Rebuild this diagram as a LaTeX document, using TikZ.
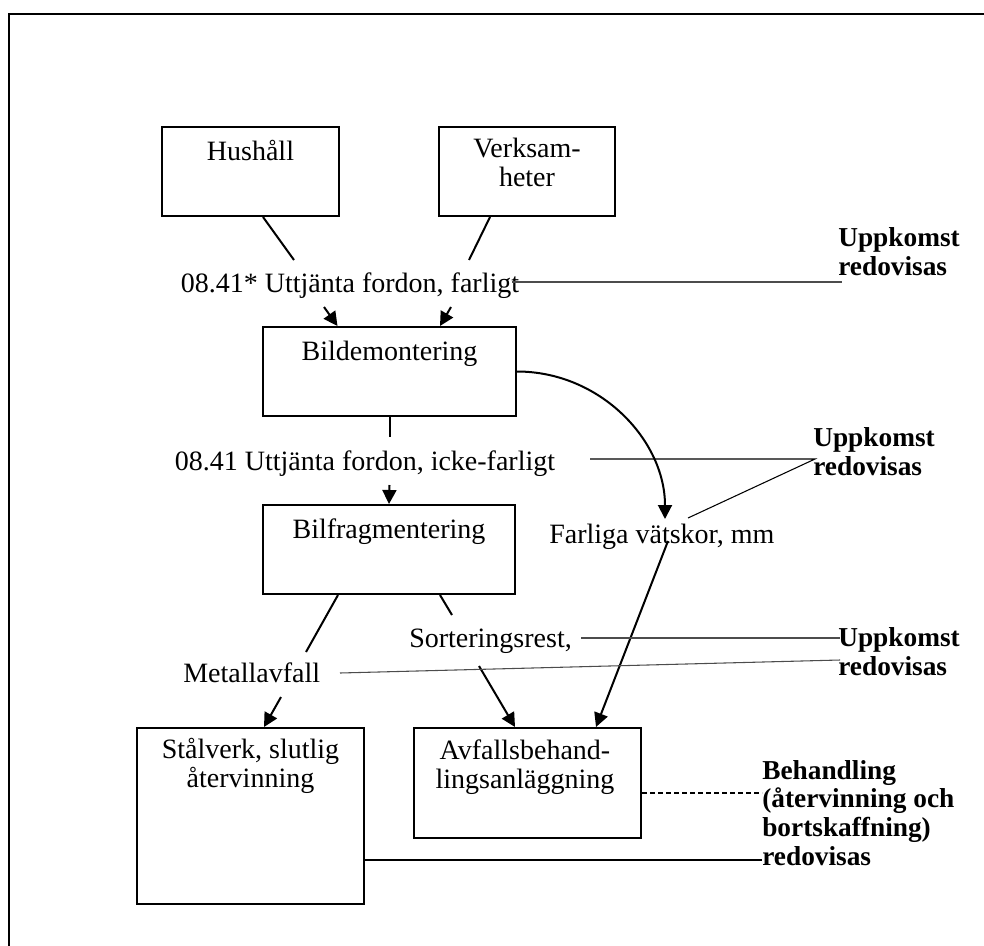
\documentclass[tikz,border=0pt]{standalone}
\usepackage{fontspec}
\setmainfont{Liberation Serif}
\usetikzlibrary{arrows.meta,calc}
\tikzset{
  box/.style={draw, line width=1.5pt, rectangle, inner sep=0pt},
  txt/.style={inner sep=0pt, anchor=base, align=center, font=\fontsize{21}{21.4}\selectfont},
  bold/.style={inner sep=0pt, anchor=base west, align=left, font=\fontsize{20.5}{21.5}\selectfont\bfseries},
  flowline/.style={line width=1.5pt},
  flowarrow/.style={line width=1.5pt, -{Triangle[length=10.5pt,width=10.5pt]}},
  note/.style={line width=0.8pt, gray!60!black},
  noteblack/.style={line width=0.8pt, black},
  notedash/.style={line width=1.2pt, dash pattern=on 4pt off 2pt}
}
\newcommand\pbox[5]{\node[box, minimum width=#4*0.75pt, minimum height=#5*0.75pt] (#1) at (#2,#3) {};}
\begin{document}
\begin{tikzpicture}[x=0.75pt, y=-0.75pt]
\useasboundingbox (0,0) rectangle (984,945);
% frame
\draw[line width=1.5pt] (9,950) -- (9,14) -- (990,14);

% boxes
\pbox{hushall}{250.5}{171.5}{177}{89}
\pbox{verksam}{527}{171.5}{176}{89}
\pbox{bildemo}{389.5}{371.5}{253}{89}
\pbox{bilfrag}{389}{549.5}{252}{89}
\pbox{stalverk}{250.5}{816}{227}{176}
\pbox{avfall}{527.5}{783}{227}{110}

% box texts (multi-line nodes: base = baseline of last line)
\node[txt] (hushall-t) at (250.5,161) {Hushåll};
\node[txt] (verksam-t) at (527,186.5) {Verksam-\\heter};
\node[txt] (bildemo-t) at (389.5,360) {Bildemontering};
\node[txt] (bilfrag-t) at (389,538) {Bilfragmentering};
\node[txt] (stalverk-t) at (250.5,787) {Stålverk, slutlig\\återvinning};
\node[txt] (avfall-t) at (525,788) {Avfallsbehand-\\lingsanläggning};

% flow labels
\node[txt] (lbl1) at (350,292) {08.41* Uttjänta fordon, farligt};
\node[txt] (lbl2) at (365,470) {08.41 Uttjänta fordon, icke-farligt};
\node[txt, anchor=base west] (farliga) at (549,543) {Farliga vätskor, mm};
\node[txt, anchor=base west] (sort) at (409,647) {Sorteringsrest,};
\node[txt, anchor=base west] (metall) at (183,682) {Metallavfall};

% bold notes
\node[bold] (u1) at (838,275) {Uppkomst\\redovisas};
\node[bold] (u2) at (813,475) {Uppkomst\\redovisas};
\node[bold] (u3) at (838,675) {Uppkomst\\redovisas};
\node[bold] (beh) at (762,865) {Behandling\\(återvinning och\\bortskaffning)\\redovisas};

% coordinates
\coordinate (hA) at (294,260);
\coordinate (hB) at (324,307);
\coordinate (vA) at (469,260);
\coordinate (vB) at (451,307);
\coordinate (bA) at (389.5,437);
\coordinate (bB) at (389.5,485);
\coordinate (fA) at (665,519);
\coordinate (fB) at (668,541);
\coordinate (mA) at (306,652);
\coordinate (mB) at (281,697);
\coordinate (sA) at (452,615);
\coordinate (sB) at (479,666);
\coordinate (n1a) at (512,282);
\coordinate (n1b) at (842,282);
\coordinate (n2a) at (590,459);
\coordinate (n2b) at (815,459);
\coordinate (n2c) at (688,518);
\coordinate (n3a) at (581,638);
\coordinate (n3b) at (840,638);
\coordinate (n4a) at (340,673);
\coordinate (n4b) at (840,660);
\coordinate (n5b) at (762,793);
\coordinate (n6b) at (762,860);

% flows
\draw[flowline] ($(hushall.south)+(12.5,0)$) -- (hA);
\draw[flowarrow] (hB) -- ($(bildemo.north)+(-52,0)$);
\draw[flowline] ($(verksam.south)+(-37,0)$) -- (vA);
\draw[flowarrow] (vB) -- ($(bildemo.north)+(50.5,0)$);
\draw[flowline] (bildemo.south) -- (bA);
\draw[flowarrow] (bB) -- (bilfrag.north);
\draw[flowarrow] (bildemo.east) .. controls (600,371.5) and (665,440) .. (fA);
\draw[flowarrow] (fB) -- ($(avfall.north)+(68.5,0)$);
\draw[flowline] ($(bilfrag.south)+(-51,0)$) -- (mA);
\draw[flowarrow] (mB) -- ($(stalverk.north)+(13.5,0)$);
\draw[flowline] ($(bilfrag.south)+(51,0)$) -- (sA);
\draw[flowarrow] (sB) -- ($(avfall.north)+(-12.5,0)$);

% note lines
\draw[note] (n1a) -- (n1b);
\draw[noteblack] (n2a) -- (n2b) -- (n2c);
\draw[note] (n3a) -- (n3b);
\draw[note] (n4a) -- (n4b);
\draw[notedash] ($(avfall.east)+(0,10)$) -- (n5b);
\draw[noteblack, line width=1pt] ($(stalverk.east)+(0,44)$) -- (n6b);
\end{tikzpicture}
\end{document}
